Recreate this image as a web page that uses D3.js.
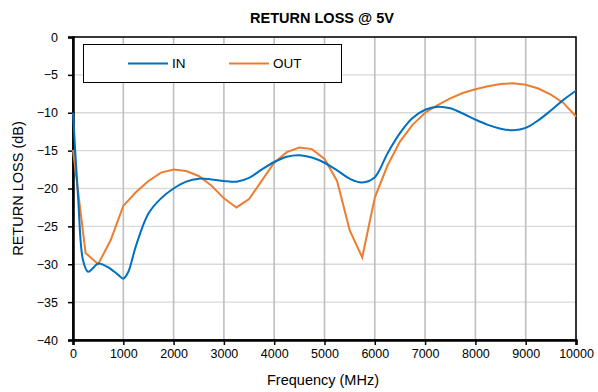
<!DOCTYPE html>
<html>
<head>
<meta charset="utf-8">
<script src="https://cdn.jsdelivr.net/npm/d3@7"></script>
<style>
  body { margin: 0; background: #fff; }
  #chart { width: 598px; height: 392px; }
  text { font-family: "Liberation Sans", Arial, sans-serif; }
</style>
</head>
<body>
<div id="chart"></div>
<script>
// data
var freqIn = [0, 100, 200, 300, 400, 500, 700, 900, 1000, 1100, 1250, 1500, 1750, 2000, 2250, 2500, 2750, 3000, 3250, 3500, 3750, 4000, 4250, 4500, 4750, 5000, 5250, 5500, 5750, 6000, 6250, 6500, 6750, 7000, 7250, 7500, 7750, 8000, 8250, 8500, 8750, 9000, 9250, 9500, 9750, 10000];
var lossIn = [-10, -21, -29.5, -31, -30.5, -29.9, -30.4, -31.4, -31.9, -31, -27.6, -23.3, -21.3, -20, -19.1, -18.7, -18.8, -19, -19.1, -18.6, -17.5, -16.5, -15.8, -15.6, -15.9, -16.6, -17.6, -18.7, -19.2, -18.5, -15.4, -12.7, -10.7, -9.6, -9.2, -9.4, -10.1, -10.9, -11.6, -12.1, -12.3, -12, -11, -9.7, -8.3, -7.1];

var freqOut = [0, 250, 500, 750, 1000, 1250, 1500, 1750, 2000, 2250, 2500, 2750, 3000, 3250, 3500, 3750, 4000, 4250, 4500, 4750, 5000, 5250, 5500, 5750, 6000, 6250, 6500, 6750, 7000, 7250, 7500, 7750, 8000, 8250, 8500, 8750, 9000, 9250, 9500, 9750, 10000];
var lossOut = [-14.9, -28.5, -30, -26.8, -22.3, -20.5, -19, -17.9, -17.5, -17.7, -18.35, -19.6, -21.3, -22.5, -21.4, -19, -16.6, -15.2, -14.6, -14.8, -16.1, -19, -25.5, -29.1, -21.2, -17, -13.8, -11.6, -10, -9, -8.1, -7.4, -6.9, -6.5, -6.2, -6.1, -6.3, -6.8, -7.6, -8.7, -10.5];

var xTicks = [0, 1000, 2000, 3000, 4000, 5000, 6000, 7000, 8000, 9000, 10000];
var yTicks = [0, -5, -10, -15, -20, -25, -30, -35, -40];

var width = 598,
    height = 392,
    marginLeft = 73,
    marginRight = 22,
    marginTop = 37,
    marginBottom = 52,
    chartWidth = width - marginLeft - marginRight,
    chartHeight = height - marginTop - marginBottom;

var svg = d3.select('#chart').append('svg')
    .attr('width', width)
    .attr('height', height);

var xScale = d3.scaleLinear().domain([0, 10000]).range([0, chartWidth]);
var yScale = d3.scaleLinear().domain([-40, 0]).range([chartHeight, 0]);

var chartArea = svg.append('g')
    .attr('transform', 'translate(' + marginLeft + ',' + marginTop + ')');

// horizontal grid
chartArea.append('g').selectAll('line').data(yTicks).enter()
    .append('line')
    .attr('x1', 0).attr('x2', chartWidth)
    .attr('y1', function(d){ return yScale(d); })
    .attr('y2', function(d){ return yScale(d); })
    .style('stroke', '#d9d9d9')
    .style('stroke-width', 1.3);

// vertical grid
chartArea.append('g').selectAll('line').data(xTicks).enter()
    .append('line')
    .attr('x1', function(d){ return xScale(d); })
    .attr('x2', function(d){ return xScale(d); })
    .attr('y1', 0).attr('y2', chartHeight)
    .style('stroke', '#bfbfbf')
    .style('stroke-width', 1.6);

// frame
chartArea.append('rect')
    .attr('x', 0).attr('y', 0)
    .attr('width', chartWidth).attr('height', chartHeight)
    .style('fill', 'none')
    .style('stroke', 'black')
    .style('stroke-width', 1.5);

// axes
var xAxis = chartArea.append('g')
    .attr('transform', 'translate(0,' + chartHeight + ')')
    .call(d3.axisBottom(xScale).tickValues(xTicks).tickSize(5).tickPadding(4).tickFormat(d3.format('d')));
var yAxis = chartArea.append('g')
    .call(d3.axisLeft(yScale).tickValues(yTicks).tickSize(5).tickPadding(10).tickFormat(d3.format('d')));

[xAxis, yAxis].forEach(function(ax){
    ax.select('.domain').style('stroke', 'black').style('stroke-width', 2.5);
    ax.selectAll('.tick line').style('stroke', 'black').style('stroke-width', 1.5);
    ax.selectAll('.tick text')
        .style('font-family', '"Liberation Sans", Arial, sans-serif')
        .style('font-size', '12.5px')
        .style('fill', '#000');
});

// lines
var lineIn = d3.line()
    .x(function(d, i){ return xScale(freqIn[i]); })
    .y(function(d){ return yScale(d); })
    .curve(d3.curveCatmullRom.alpha(0.5));
var lineOut = d3.line()
    .x(function(d, i){ return xScale(freqOut[i]); })
    .y(function(d){ return yScale(d); });

chartArea.append('path').datum(lossOut)
    .attr('d', lineOut)
    .style('fill', 'none')
    .style('stroke', '#ed7d31')
    .style('stroke-width', 2);

chartArea.append('path').datum(lossIn)
    .attr('d', lineIn)
    .style('fill', 'none')
    .style('stroke', '#0070c0')
    .style('stroke-width', 2);

// legend
var legend = svg.append('g');
legend.append('rect')
    .attr('x', 83.5).attr('y', 44.5)
    .attr('width', 258).attr('height', 38)
    .style('fill', 'white')
    .style('stroke', 'black')
    .style('stroke-width', 1);
var legendItems = [
    {name: 'IN', color: '#0070c0', x: 128},
    {name: 'OUT', color: '#ed7d31', x: 229}
];
legend.selectAll('line').data(legendItems).enter()
    .append('line')
    .attr('x1', function(d){ return d.x; })
    .attr('x2', function(d){ return d.x + 40; })
    .attr('y1', 63.5).attr('y2', 63.5)
    .style('stroke', function(d){ return d.color; })
    .style('stroke-width', 2);
legend.selectAll('text').data(legendItems).enter()
    .append('text')
    .attr('x', function(d){ return d.x + 44; })
    .attr('y', 68)
    .text(function(d){ return d.name; })
    .style('font-size', '13.5px');

// titles
svg.append('text')
    .attr('x', 322).attr('y', 23)
    .attr('text-anchor', 'middle')
    .style('font-size', '14.5px')
    .style('font-weight', 'bold')
    .text('RETURN LOSS @ 5V');

svg.append('text')
    .attr('x', 323).attr('y', 385)
    .attr('text-anchor', 'middle')
    .style('font-size', '14.5px')
    .text('Frequency (MHz)');

svg.append('text')
    .attr('transform', 'translate(23,' + (marginTop + chartHeight / 2) + ') rotate(-90)')
    .attr('text-anchor', 'middle')
    .style('font-size', '14.5px')
    .text('RETURN LOSS (dB)');
</script>
</body>
</html>
